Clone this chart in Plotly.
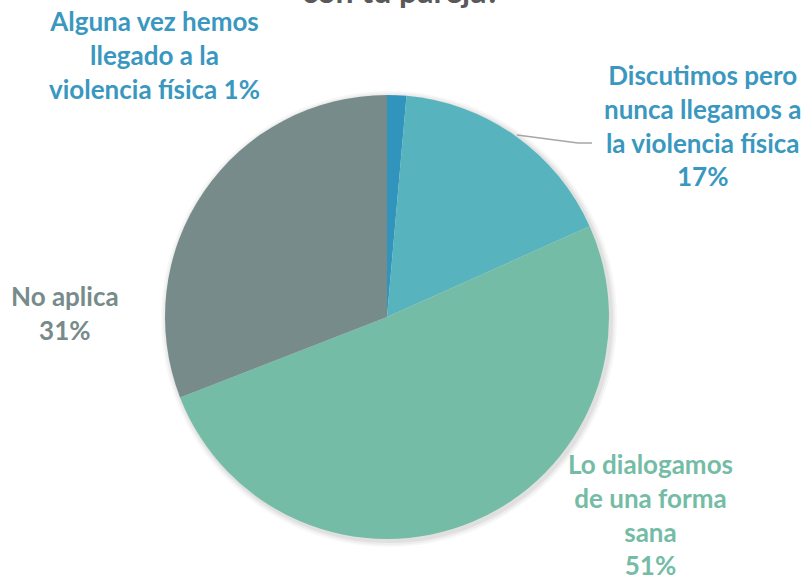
import plotly.graph_objects as go

W, H = 804, 575

# slices, clockwise from 12 o'clock
labels = ["Alguna vez hemos llegado a la violencia física",
          "Discutimos pero nunca llegamos a la violencia física",
          "Lo dialogamos de una forma sana",
          "No aplica"]
values = [1.4, 16.9, 50.8, 30.9]
pct_labels = ["1%", "17%", "51%", "31%"]
colors = ["#3194bc", "#57b4be", "#75bca6", "#788b8b"]
text_colors = ["#3a98c0", "#3a98c0", "#75bca6", "#788b8b"]

font_family = "Lato, 'Open Sans', sans-serif"

# pie placement in pixels (center and radius)
cx, cy, r = 387, 317, 222


def px_x(x):
    return x / W


def px_y(y):
    return 1 - y / H


fig = go.Figure()
fig.add_trace(go.Pie(
    labels=labels,
    values=values,
    sort=False,
    direction="clockwise",
    rotation=0,
    marker=dict(colors=colors, line=dict(width=0)),
    textinfo="none",
    hoverinfo="label+percent",
    showlegend=False,
    domain=dict(x=[px_x(cx - r), px_x(cx + r)], y=[px_y(cy + r), px_y(cy - r)]),
))

# soft shadow behind the pie
shapes = []
for i, a in enumerate([0.05, 0.04, 0.03]):
    g = 2 + i * 2
    shapes.append(dict(
        type="circle", xref="paper", yref="paper", layer="below",
        x0=px_x(cx - r - g + 2), x1=px_x(cx + r + g + 2),
        y0=px_y(cy + r + g + 2), y1=px_y(cy - r - g + 2),
        fillcolor=f"rgba(0,0,0,{a})", line=dict(width=0),
    ))

# leader line for the 17% label
shapes.append(dict(
    type="path", xref="paper", yref="paper",
    path=f"M {px_x(517)} {px_y(135)} L {px_x(578)} {px_y(143)} L {px_x(592)} {px_y(143)}",
    line=dict(color="#a6a6a6", width=1.5),
))

label_text = [
    "Alguna vez hemos<br>llegado a la<br>violencia física " + pct_labels[0],
    "Discutimos pero<br>nunca llegamos a<br>la violencia física<br>" + pct_labels[1],
    "Lo dialogamos<br>de una forma<br>sana<br>" + pct_labels[2],
    "No aplica<br>" + pct_labels[3],
]
label_pos = [(154, 55), (702, 126), (650, 514), (65, 313)]

annotations = []
for t, (x, y), c in zip(label_text, label_pos, text_colors):
    annotations.append(dict(
        x=px_x(x), y=px_y(y), xref="paper", yref="paper",
        text=f"<b>{t}</b>", showarrow=False, align="center",
        xanchor="center", yanchor="middle",
        font=dict(family=font_family, size=26, color=c),
    ))

# chart title, cut off at the top edge
annotations.append(dict(
    x=px_x(401), y=px_y(12), xref="paper", yref="paper",
    text="<b>con tu pareja?</b>", showarrow=False,
    xanchor="center", yanchor="bottom",
    font=dict(family=font_family, size=32, color="#595959"),
))

fig.update_layout(
    width=W, height=H,
    margin=dict(t=0, b=0, l=0, r=0),
    paper_bgcolor="white",
    plot_bgcolor="white",
    shapes=shapes,
    annotations=annotations,
)

fig.write_html("out.html", config={"displayModeBar": False},
               post_script="document.body.style.margin='0';")
